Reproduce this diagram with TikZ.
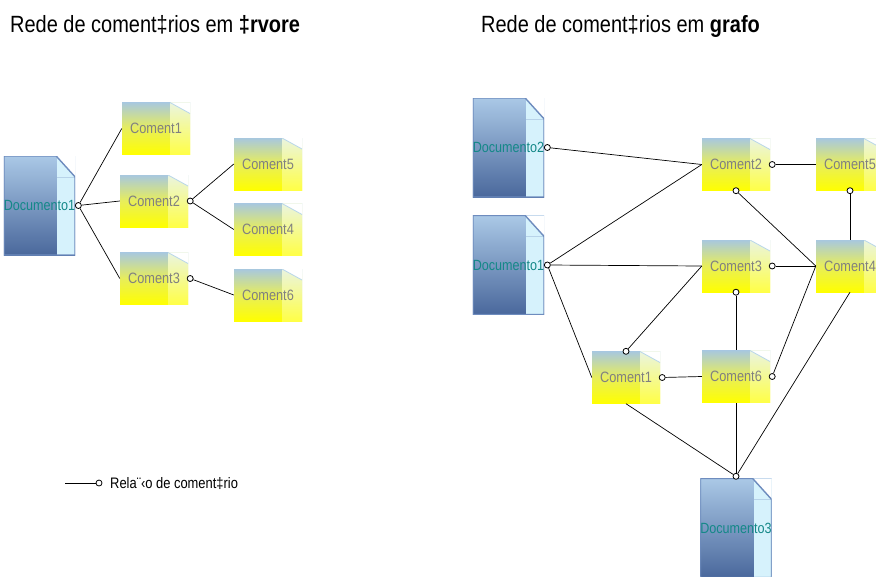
\documentclass[tikz,border=0pt]{standalone}
\usepackage{fontspec}
\setmainfont{Liberation Sans}[FakeStretch=0.85]
\usepackage{xcolor}
\usepackage{tikz}
\usetikzlibrary{calc}
\usetikzlibrary{positioning}
\definecolor{docTop}{RGB}{170,200,230}
\definecolor{docBot}{RGB}{74,104,156}
\definecolor{docStrip}{RGB}{214,242,252}
\definecolor{docEdge}{RGB}{110,140,190}
\definecolor{docText}{RGB}{20,136,136}
\definecolor{cmtTop}{RGB}{168,200,222}
\definecolor{cmtMid}{RGB}{232,238,90}
\definecolor{cmtStripTop}{RGB}{234,244,224}
\definecolor{cmtStripBot}{RGB}{255,255,70}
\definecolor{cmtEdge}{RGB}{184,214,232}
\definecolor{cmtText}{RGB}{128,128,128}

\begin{document}
\begin{tikzpicture}[x=1pt,y=-1pt,
	dbox/.style={rectangle,minimum width=67pt,minimum height=99pt,inner sep=0pt,
		text=docText,font=\fontsize{14.8}{16}\selectfont,
		path picture={
			\coordinate (pne) at (path picture bounding box.north east);
			\coordinate (psw) at (path picture bounding box.south west);
			\coordinate (pnw) at (path picture bounding box.north west);
			\coordinate (pse) at (path picture bounding box.south east);
			\shade[top color=docTop,bottom color=docBot] (psw) rectangle (pne);
			\fill[docStrip] ([xshift=-18pt]pne) rectangle (pse);
			\fill[white] ([xshift=-19pt]pne) -- (pne) -- ([yshift=-21pt]pne) -- cycle;
			\draw[docStrip!70!docEdge,line width=0.6pt] ([xshift=-18pt,yshift=-21pt]pne) -- ([yshift=-21pt]pne);
			\draw[docEdge,line width=1.4pt] (psw) -- (pnw) -- ([xshift=-19pt]pne) -- ([yshift=-21pt]pne) -- (pse) -- cycle;
		}},
	cbox/.style={rectangle,minimum width=68pt,minimum height=52pt,inner sep=0pt,
		text=cmtText,font=\fontsize{15}{17}\selectfont,
		path picture={
			\coordinate (pne) at (path picture bounding box.north east);
			\coordinate (psw) at (path picture bounding box.south west);
			\coordinate (pse) at (path picture bounding box.south east);
			\shade[top color=cmtTop,bottom color=yellow,middle color=cmtMid] (psw) rectangle (pne);
			\shade[top color=cmtStripTop,bottom color=cmtStripBot] ([xshift=-20pt]pne) rectangle (pse);
			\fill[white] ([xshift=-20pt]pne) -- (pne) -- ([yshift=-11pt]pne) -- cycle;
			\draw[cmtEdge,line width=0.8pt] ([xshift=-20pt]pne) -- ([yshift=-11pt]pne);
		}},
	ring/.style={circle,draw,fill=white,inner sep=0pt,minimum size=6pt,line width=0.8pt},
	link/.style={line width=0.7pt}]
	\useasboundingbox (0,0) rectangle (876,576);
	\node[anchor=base west,inner sep=0pt,font=\fontsize{23.5}{26}\selectfont] (titArvore) at (10,32) {Rede de coment‡rios em \textbf{‡rvore}};
	\node[anchor=base west,inner sep=0pt,font=\fontsize{23.5}{26}\selectfont] (titGrafo) at (481,32) {Rede de coment‡rios em \textbf{grafo}};
	% arvore
	\node[dbox] (doc1) at (39.5,205.5) {Documento1};
	\node[cbox] (com1) at (156,128.5) {Coment1};
	\node[cbox] (com2) at (154,201) {Coment2};
	\node[cbox] (com3) at (154,278.5) {Coment3};
	\node[cbox] (com5) at (268,164) {Coment5};
	\node[cbox] (com4) at (268,229.5) {Coment4};
	\node[cbox] (com6) at (268,295) {Coment6};
	\node[ring] (rDoc1) at ([xshift=3pt]doc1.east) {};
	\node[ring] (rCom2) at ([xshift=2pt]com2.east) {};
	\node[ring] (rCom3) at ([xshift=2pt]com3.east) {};
	\draw[link] (rDoc1)--(com1.west);
	\draw[link] (rDoc1)--(com2.west);
	\draw[link] (rDoc1)--(com3.west);
	\draw[link] (rCom2)--(com5.west);
	\draw[link] (rCom2)--(com4.west);
	\draw[link] (rCom3)--(com6.west);
	% legenda
	\coordinate (legStart) at (65,483);
	\node[ring] (legRing) at (99,483) {};
	\draw[link] (legStart)--(legRing);
	\node[anchor=west,inner sep=0pt,font=\fontsize{15.2}{17}\selectfont] (legText) at (110,484) {Rela¨‹o de coment‡rio};
	% grafo
	\node[dbox] (gdoc2) at (508.5,147.5) {Documento2};
	\node[dbox] (gdoc1) at (508.5,265) {Documento1};
	\node[dbox] (gdoc3) at (736,528) {Documento3};
	\node[cbox] (gcom2) at (736,164.5) {Coment2};
	\node[cbox] (gcom5) at (850,164.5) {Coment5};
	\node[cbox] (gcom3) at (736,266) {Coment3};
	\node[cbox] (gcom4) at (850,266) {Coment4};
	\node[cbox] (gcom1) at (626,377.5) {Coment1};
	\node[cbox] (gcom6) at (736,376.5) {Coment6};
	\node[ring] (grDoc2) at ([xshift=3pt]gdoc2.east) {};
	\node[ring] (grDoc1) at ([xshift=3pt]gdoc1.east) {};
	\node[ring] (grDoc3) at ([yshift=2pt]gdoc3.north) {};
	\node[ring] (grCom2e) at ([xshift=2pt]gcom2.east) {};
	\node[ring] (grCom2s) at (gcom2.south) {};
	\node[ring] (grCom3e) at ([xshift=2pt]gcom3.east) {};
	\node[ring] (grCom3s) at (gcom3.south) {};
	\node[ring] (grCom5s) at (gcom5.south) {};
	\node[ring] (grCom1n) at (gcom1.north) {};
	\node[ring] (grCom1e) at ([xshift=2pt]gcom1.east) {};
	\node[ring] (grCom6e) at ([xshift=2pt]gcom6.east) {};
	\draw[link] (grDoc2)--(gcom2.west);
	\draw[link] (grDoc1)--(gcom2.west);
	\draw[link] (grDoc1)--(gcom3.west);
	\draw[link] (grDoc1)--(gcom1.west);
	\draw[link] (grCom1n)--(gcom3.west);
	\draw[link] (grCom2e)--(gcom5.west);
	\draw[link] (grCom2s)--(gcom4.west);
	\draw[link] (grCom3e)--(gcom4.west);
	\draw[link] (grCom6e)--(gcom4.west);
	\draw[link] (grCom5s)--(gcom4.north);
	\draw[link] (grCom3s)--(gcom6.north);
	\draw[link] (grCom1e)--(gcom6.west);
	\draw[link] (grDoc3)--(gcom1.south);
	\draw[link] (grDoc3)--(gcom6.south);
	\draw[link] (grDoc3)--(gcom4.south);
\end{tikzpicture}
\end{document}
